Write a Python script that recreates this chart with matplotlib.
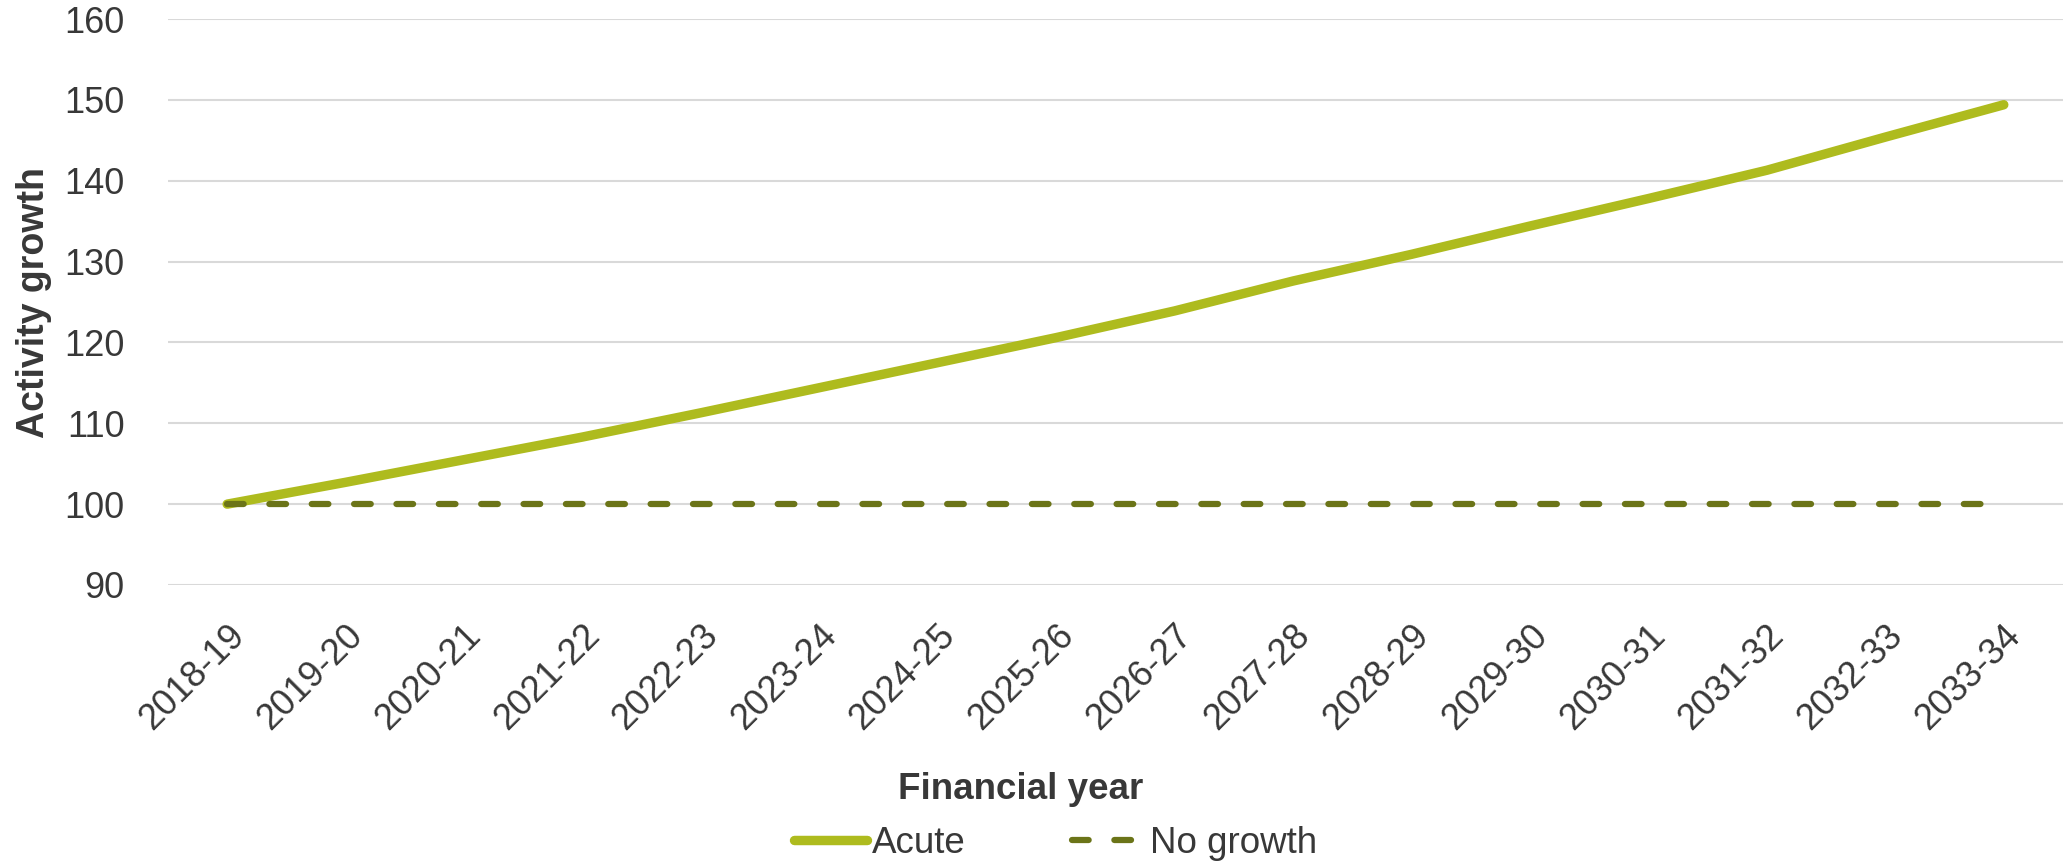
import matplotlib
matplotlib.use("Agg")
import matplotlib.pyplot as plt
import matplotlib.transforms as mtransforms
from matplotlib.lines import Line2D

years = ['2018-19', '2019-20', '2020-21', '2021-22', '2022-23', '2023-24',
         '2024-25', '2025-26', '2026-27', '2027-28', '2028-29', '2029-30',
         '2030-31', '2031-32', '2032-33', '2033-34']
acute = [100.0, 102.7, 105.5, 108.3, 111.3, 114.4, 117.5, 120.6,
         123.9, 127.6, 130.9, 134.4, 137.8, 141.3, 145.4, 149.4]
no_growth = [100.0] * len(years)
y_ticks = [90, 100, 110, 120, 130, 140, 150, 160]

ACUTE_COLOR = '#AEBB1E'
BASE_COLOR = '#6B7418'
TEXT_COLOR = '#383838'
GRID_COLOR = '#D9D9D9'
DASHES = (12, 18.5)

plt.rcParams['font.family'] = ['Liberation Sans', 'DejaVu Sans']
plt.rcParams['lines.scale_dashes'] = False

fig = plt.figure(figsize=(20.63, 8.66), dpi=100)
ax = fig.add_axes([0.0814, 0.3245, 0.9186, 0.6535])

x = list(range(len(years)))
ax.plot(x, acute, color=ACUTE_COLOR, lw=6.8, solid_capstyle='round',
        solid_joinstyle='round', label='Acute', zorder=3)
ax.plot(x, no_growth, color=BASE_COLOR, lw=4.5, dashes=DASHES,
        dash_capstyle='round', label='No growth', zorder=4)

ax.set_xlim(-0.5, len(years) - 0.5)
ax.set_ylim(90, 160)
ax.set_yticks(y_ticks)
ax.yaxis.grid(True, color=GRID_COLOR, lw=1.5)
ax.set_axisbelow(True)
for s in ax.spines.values():
    s.set_visible(False)

ax.tick_params(axis='both', length=0, labelsize=26, colors=TEXT_COLOR)
ax.tick_params(axis='y', pad=31)
ax.set_xticks(x)
ax.set_xticklabels(years, rotation=45, ha='right', va='center',
                   rotation_mode='anchor')
shift = mtransforms.ScaledTranslation(8.5 / 72, -29 / 72, fig.dpi_scale_trans)
for lbl in ax.get_xticklabels():
    lbl.set_transform(lbl.get_transform() + shift)

ax.set_ylabel('Activity growth', fontsize=27, fontweight='bold',
              color=TEXT_COLOR, labelpad=9)
fig.text(0.4946, 0.088, 'Financial year', fontsize=26.5, fontweight='bold',
         color=TEXT_COLOR, ha='center', va='center')

handles = [Line2D([], [], color=ACUTE_COLOR, lw=6.8, solid_capstyle='round'),
           Line2D([], [], color=BASE_COLOR, lw=4.5, dashes=DASHES,
                  dash_capstyle='round')]
fig.legend(handles, ['Acute', 'No growth'], loc='center',
           bbox_to_anchor=(0.5117, 0.026), ncol=2, frameon=False,
           fontsize=26.5, handlelength=2.0, handletextpad=0.12,
           columnspacing=2.9, labelcolor=TEXT_COLOR)

fig.savefig('out.png', dpi=100)
